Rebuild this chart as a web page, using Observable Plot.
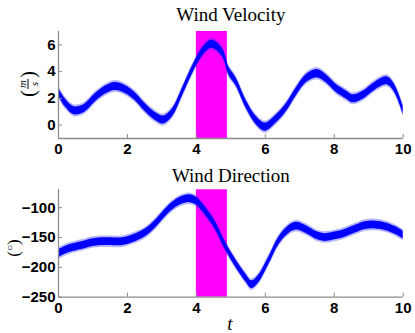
<!DOCTYPE html>
<html>
<head>
<meta charset="utf-8">
<script src="https://cdn.jsdelivr.net/npm/d3@7"></script>
<script src="https://cdn.jsdelivr.net/npm/@observablehq/plot@0.6"></script>
<style>
  body { margin: 0; background: #fff; }
  #wrap { position: relative; width: 415px; height: 333px; overflow: hidden; }
  #wrap svg { display: block; overflow: visible; }
  .lab { position: absolute; font-family: "Liberation Serif", "DejaVu Serif", serif; color: #000; white-space: nowrap; line-height: 1; }
</style>
</head>
<body>
<div id="wrap"></div>
<script>
// ---- data ----
const xTicks = [0, 2, 4, 6, 8, 10];
const velTicks = [0, 2, 4, 6];
const dirTicks = [-250, -200, -150, -100];
const highlight = [{start: 4, end: 4.9}];

const velT = [0, 0.2, 0.45, 0.75, 1.05, 1.35, 1.65, 1.95, 2.25, 2.5, 2.8, 3.05, 3.3, 3.6, 3.9, 4.2, 4.45, 4.75, 4.95, 5.15, 5.45, 5.75, 6.0, 6.3, 6.6, 6.9, 7.2, 7.5, 7.75, 8.05, 8.35, 8.55, 8.85, 9.1, 9.4, 9.55, 9.7, 9.85, 10];
const velocity = [2.5, 1.65, 1.08, 1.25, 2.0, 2.6, 2.88, 2.65, 2.07, 1.35, 0.66, 0.38, 0.9, 2.5, 4.2, 5.55, 6.05, 5.45, 4.0, 3.25, 1.53, 0.3, -0.15, 0.42, 1.28, 2.5, 3.5, 3.85, 3.5, 2.76, 2.26, 1.97, 2.26, 2.76, 3.25, 3.3, 2.95, 2.2, 1.1];
const velNoise = 0.3;

const dirT = [0, 0.3, 0.7, 1.05, 1.5, 1.85, 2.25, 2.6, 2.9, 3.2, 3.5, 3.8, 4.0, 4.25, 4.55, 4.85, 5.15, 5.45, 5.6, 5.8, 6.1, 6.4, 6.7, 6.9, 7.2, 7.5, 7.75, 8.05, 8.35, 8.65, 8.9, 9.2, 9.5, 9.8, 10];
const direction = [-177, -169, -163, -158, -157, -157, -150, -139, -122, -103, -90, -85, -89, -105, -130, -165, -194, -219, -229, -220, -189, -155, -136, -131, -137, -147, -150, -147, -142, -135, -130, -129, -132, -139, -146];
const dirNoise = 6.5;

const velData = velT.map((t, i) => ({t, v: velocity[i]}));
const dirData = dirT.map((t, i) => ({t, v: direction[i]}));

const W = 415, ML = 58, MR = 12.3;
const axisGray = "#8c8c8c";
const tickFont = {fontFamily: "'Liberation Sans', Arial, sans-serif", fontWeight: "bold", fontSize: "15px", color: "#000", background: "transparent", overflow: "visible"};

function panel({data, noise, yDomain, yTicks, height, mt, mb, title, titleDy}) {
  const ph = height - mt - mb, pw = W - ML - MR;
  return Plot.plot({
    width: W, height, marginLeft: ML, marginRight: MR, marginTop: mt, marginBottom: mb,
    style: tickFont,
    x: {domain: [0, 10]},
    y: {domain: yDomain},
    marks: [
      Plot.rect(highlight, {x1: "start", x2: "end", fill: "#ff00ff"}),
      Plot.areaY(data, {x: "t", y1: d => d.v - noise * 1.5, y2: d => d.v + noise * 1.5, curve: "catmull-rom", fill: "#2b2bff", fillOpacity: 0.35}),
      Plot.areaY(data, {x: "t", y1: d => d.v - noise, y2: d => d.v + noise, curve: "catmull-rom", fill: "#0000ff"}),
      Plot.ruleX([0], {stroke: axisGray, strokeWidth: 1.3}),
      Plot.ruleY([yDomain[0]], {stroke: axisGray, strokeWidth: 1.3}),
      Plot.tickX(xTicks, {x: d => d, stroke: axisGray, insetTop: ph - 4}),
      Plot.tickY(yTicks, {y: d => d, stroke: axisGray, insetRight: pw - 4}),
      Plot.axisX(xTicks, {tickSize: 0, tickPadding: 5, tickFormat: d => String(d)}),
      Plot.axisY(yTicks, {tickSize: 0, tickPadding: 3, tickFormat: d => (d < 0 ? "\u2212" + (-d) : String(d))}),
      Plot.text([title], {frameAnchor: "top", lineAnchor: "middle", dy: titleDy, fontFamily: "'Liberation Serif', 'DejaVu Serif', serif", fontWeight: "normal", fontSize: 19, fill: "#000"})
    ]
  });
}

const wrap = document.getElementById("wrap");
wrap.appendChild(panel({data: velData, noise: velNoise, yDomain: [-1, 7], yTicks: velTicks, height: 165, mt: 31, mb: 27, title: "Wind Velocity", titleDy: -17}));
wrap.appendChild(panel({data: dirData, noise: dirNoise, yDomain: [-250, -70], yTicks: dirTicks, height: 168, mt: 24.3, mb: 36.3, title: "Wind Direction", titleDy: -14}));

function addLabel(html, x, y, extra) {
  const d = document.createElement("div");
  d.className = "lab";
  d.innerHTML = html;
  d.style.left = x + "px";
  d.style.top = y + "px";
  d.style.transform = "translate(-50%,-50%)" + (extra || "");
  wrap.appendChild(d);
}
addLabel('<span style="display:flex;align-items:center"><span style="font-size:21px;line-height:1">(</span><span style="display:inline-flex;flex-direction:column;align-items:center;font-size:11px;font-style:italic;line-height:1;margin:0 1px"><span style="border-bottom:0.8px solid #000;padding:0 1px">m</span><span>s</span></span><span style="font-size:21px;line-height:1">)</span></span>', 28, 84, " rotate(-90deg)");
addLabel('<span style="font-size:17px">(<sup style="font-size:10px">\u25CB</sup>)</span>', 13, 248, " rotate(-90deg)");
addLabel('<span style="font-size:19px;font-style:italic">t</span>', 230, 323);
</script>
</body>
</html>
